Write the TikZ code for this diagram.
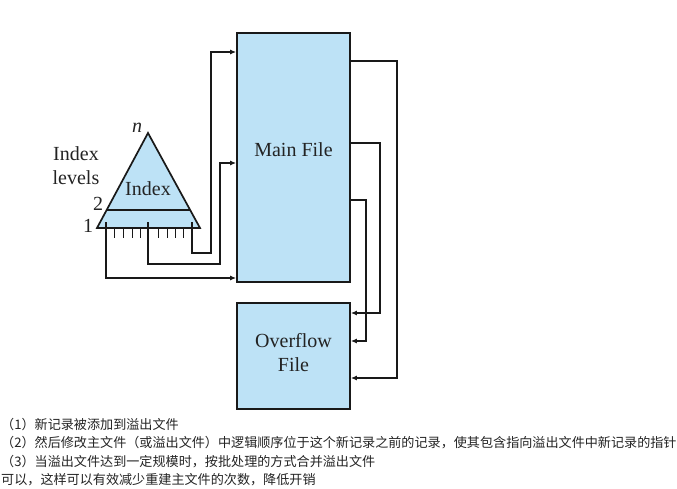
\documentclass[tikz,border=0pt]{standalone}
\usepackage{fontspec}
\setmainfont{Liberation Serif}
\newfontfamily\cjk{Noto Sans CJK SC}
\usetikzlibrary{arrows.meta}
\definecolor{fileblue}{RGB}{189,226,246}
\definecolor{ink}{RGB}{25,25,25}
\definecolor{txt}{RGB}{35,35,35}
\tikzset{
  filebox/.style={draw=ink, line width=1.7pt, fill=fileblue, inner sep=0pt},
  conn/.style={draw=ink, line width=1.7pt, -{Latex[length=6pt,width=5pt]}},
  plainline/.style={draw=ink, line width=1.7pt},
  tick/.style={draw=ink, line width=1pt},
  lbl/.style={font=\fontsize{20}{24}\selectfont, text=txt, inner sep=0pt},
  note/.style={font=\cjk\fontsize{13.1}{15}\selectfont, text=txt, anchor=base west, inner sep=0pt}
}
\begin{document}
\begin{tikzpicture}[x=1pt,y=-1pt]
\useasboundingbox (0,0) rectangle (677,489);
% files
\node[filebox, minimum width=113pt, minimum height=249pt] (main) at (293.5,157.5) {};
\node[lbl] (mainlbl) at (293.5,150) {Main File};
\node[filebox, minimum width=113pt, minimum height=106pt] (ovf) at (293.5,356) {};
\node[lbl, align=center] (ovflbl) at (293.5,353) {Overflow\\File};
% index triangle
\coordinate (apex) at (148,133);
\coordinate (bl) at (97,228);
\coordinate (br) at (200,228);
\draw[plainline, fill=fileblue, line join=miter] (apex) -- (br) -- (bl) -- cycle;
\draw[plainline] (107,210) -- (189.5,210);
\node[lbl] (idx) at (148,189) {Index};
\node[lbl, font=\fontsize{20}{24}\selectfont\itshape] (nlbl) at (137,128) {n};
\node[lbl] (two) at (98,204) {2};
\node[lbl] (one) at (88,226) {1};
\node[lbl, align=center] (levels) at (76,166) {Index\\levels};
% ticks
\foreach \x in {114,123,132,140,158,167,175,183}
  \draw[tick] (\x,228) -- (\x,238);
% pointers from index to main file
\coordinate (pa) at (106,222);
\coordinate (pb) at (148,222);
\coordinate (pc) at (192,222);
\draw[conn] (pc) -- (192,253) -- (211,253) -- (211,52) -- (main.west |- 0,52);
\draw[conn] (pb) -- (148,264) -- (220,264) -- (220,163) -- (main.west |- 0,163);
\draw[conn] (pa) -- (106,278) -- (main.west |- 0,278);
% pointers from main file to overflow
\draw[conn] (main.east |- 0,61) -- (397,61) -- (397,378) -- (ovf.east |- 0,378);
\draw[conn] (main.east |- 0,143) -- (380,143) -- (380,313) -- (ovf.east |- 0,313);
\draw[conn] (main.east |- 0,200) -- (366,200) -- (366,341) -- (ovf.east |- 0,341);
% notes
\node[note] (n1) at (1,429) {（1）新记录被添加到溢出文件};
\node[note] (n2) at (1,447) {（2）然后修改主文件（或溢出文件）中逻辑顺序位于这个新记录之前的记录，使其包含指向溢出文件中新记录的指针};
\node[note] (n3) at (1,466) {（3）当溢出文件达到一定规模时，按批处理的方式合并溢出文件};
\node[note] (n4) at (1,484) {可以，这样可以有效减少重建主文件的次数，降低开销};
\end{tikzpicture}
\end{document}
